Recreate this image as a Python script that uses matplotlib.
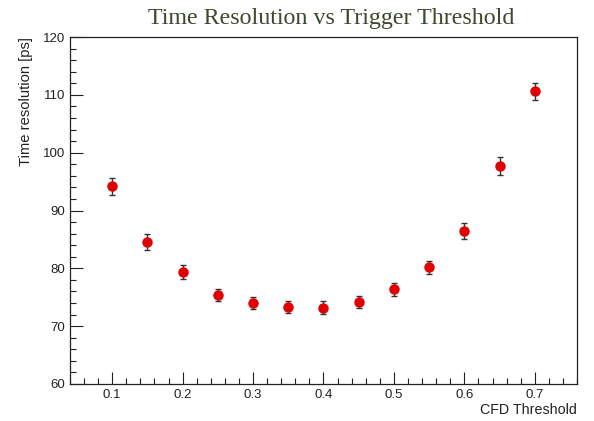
import matplotlib
matplotlib.use("Agg")
import matplotlib.pyplot as plt
from matplotlib.ticker import MultipleLocator

thresholds = [0.10, 0.15, 0.20, 0.25, 0.30, 0.35, 0.40, 0.45, 0.50, 0.55, 0.60, 0.65, 0.70]
resolution = [94.2, 84.5, 79.3, 75.4, 74.0, 73.3, 73.2, 74.2, 76.4, 80.2, 86.5, 97.7, 110.6]
errors = [1.5, 1.4, 1.2, 1.1, 1.1, 1.1, 1.1, 1.1, 1.1, 1.1, 1.4, 1.5, 1.5]
xtick_labels = ['0.1', '0.2', '0.3', '0.4', '0.5', '0.6', '0.7']

fig = plt.figure(figsize=(5.94, 4.21), dpi=100)
ax = fig.add_axes([0.1178, 0.0879, 0.8536, 0.8242])
ax.errorbar(thresholds, resolution, yerr=errors, fmt='o', color='#e00000',
            markersize=6.5, ecolor='#333333', elinewidth=1.0, capsize=2, capthick=1.0)

ax.set_xlim(0.04, 0.76)
ax.set_ylim(60, 120)
ax.xaxis.set_major_locator(MultipleLocator(0.1))
ax.xaxis.set_minor_locator(MultipleLocator(0.02))
ax.yaxis.set_major_locator(MultipleLocator(10))
ax.yaxis.set_minor_locator(MultipleLocator(2))
ax.tick_params(which='both', direction='in', top=False, right=False,
               labelsize=9.5, colors='#222222', width=0.8)
ax.tick_params(which='major', length=9)
ax.tick_params(which='minor', length=4.5)
ax.set_xticks([float(t) for t in xtick_labels])
ax.set_xticklabels(xtick_labels, family='Liberation Sans')
for lbl in ax.get_yticklabels():
    lbl.set_family('Liberation Sans')
for s in ax.spines.values():
    s.set_linewidth(0.9)
    s.set_color('#222222')

ax.set_xlabel('CFD Threshold', family='Liberation Sans', fontsize=10.3, loc='right',
              color='#222222', labelpad=1.5)
ax.set_ylabel('Time resolution [ps]', family='Liberation Sans', fontsize=10.6, loc='top',
              color='#222222', labelpad=7)
fig.text(0.558, 0.957, 'Time Resolution vs Trigger Threshold', family='Liberation Serif',
         fontsize=17.3, color='#3b4a2c', ha='center', va='center')

fig.savefig('out.png', dpi=100)
